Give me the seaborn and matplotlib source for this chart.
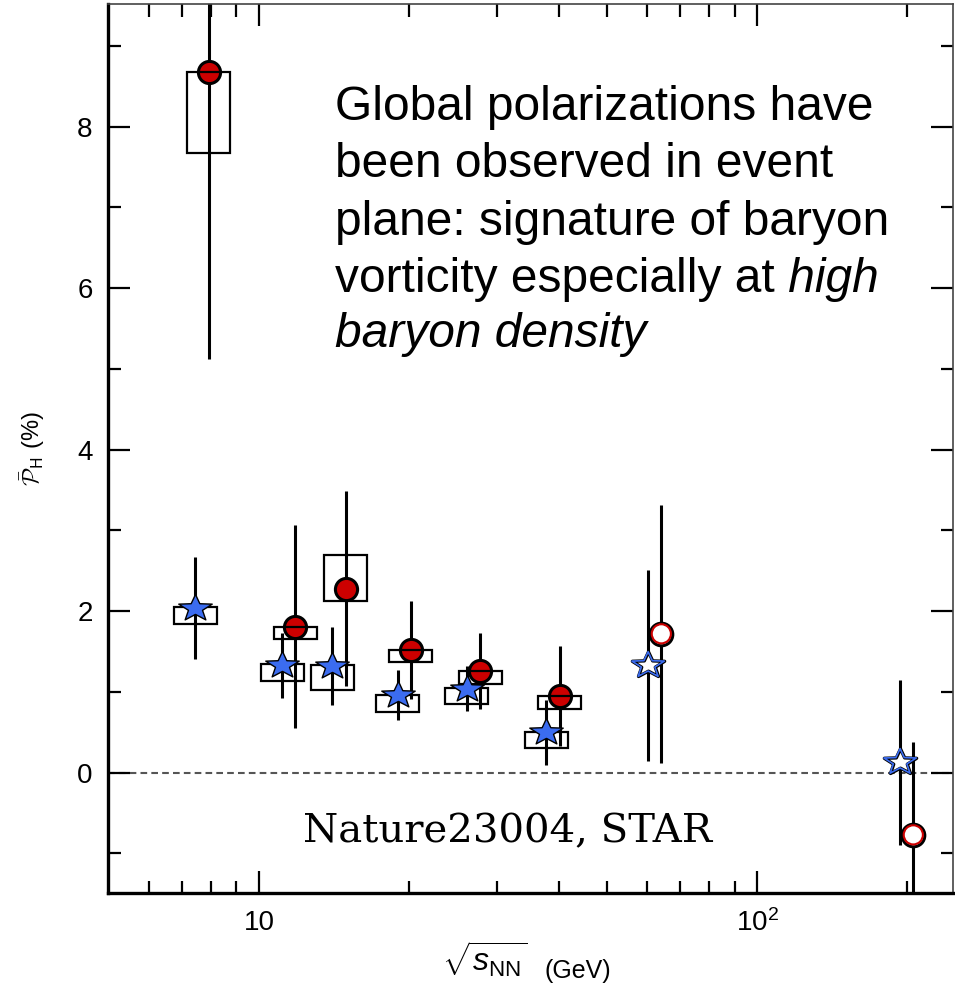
import numpy as np
import matplotlib
matplotlib.use("Agg")
import matplotlib.pyplot as plt
import seaborn as sns
import pandas as pd
from matplotlib.patches import Rectangle
from matplotlib.path import Path
from matplotlib.markers import MarkerStyle
from matplotlib.ticker import FixedLocator, FixedFormatter, NullFormatter

# ---------------- data ----------------
energies = [7.7, 11.5, 14.5, 19.6, 27.0, 39.0, 62.4, 200.0]

# Lambda (stars)
lam_P = [2.04, 1.33, 1.32, 0.96, 1.04, 0.50, 1.33, 0.13]
lam_stat = [0.63, 0.40, 0.48, 0.31, 0.28, 0.40, 1.18, 1.02]
lam_sys_lo = [0.20, 0.19, 0.30, 0.21, 0.19, 0.19, np.nan, np.nan]
lam_sys_hi = [0.01, 0.02, 0.01, 0.00, 0.01, 0.01, np.nan, np.nan]
lam_open = [False, False, False, False, False, False, True, True]

# anti-Lambda (circles)
alam_P = [8.68, 1.81, 2.28, 1.52, 1.26, 0.95, 1.72, -0.77]
alam_stat = [3.56, 1.26, 1.21, 0.61, 0.47, 0.62, 1.60, 1.15]
alam_sys_lo = [1.00, 0.15, 0.15, 0.15, 0.16, 0.16, np.nan, np.nan]
alam_sys_hi = [0.00, 0.00, 0.41, 0.00, 0.00, 0.00, np.nan, np.nan]
alam_open = [False, False, False, False, False, False, True, True]

x_major = [10, 100]
x_major_labels = ["10", r"$\mathdefault{10^{2}}$"]
x_minor = [6, 7, 8, 9, 20, 30, 40, 50, 60, 70, 80, 90, 200]
y_major = [0, 2, 4, 6, 8]
y_minor = [-1, 1, 3, 5, 7, 9]

text_lines = ["Global polarizations have",
              "been observed in event",
              "plane: signature of baryon",
              "vorticity especially at"]
text_italic_tail = " high"
text_italic_line = "baryon density"
ref_label = "Nature23004, STAR"
xlabel_math = r"$\sqrt{s_{\mathrm{NN}}}$"
xlabel_unit = "(GeV)"
ylabel = r"$\bar{\mathcal{P}}_{\mathsf{H}}$ (%)"

# ---------------- style ----------------
sns.set_theme(style="ticks")
plt.rcParams["font.family"] = ["Liberation Sans", "DejaVu Sans"]
plt.rcParams["mathtext.fontset"] = "custom"
plt.rcParams["mathtext.rm"] = "Liberation Sans"
plt.rcParams["mathtext.it"] = "Liberation Sans:italic"
plt.rcParams["mathtext.bf"] = "Liberation Sans:bold"

STAR_SHIFT = 0.967
CIRC_SHIFT = 1.028
BOX_F = 1.105
BLUE = "#3b6cf0"
RED = "#cc0000"

fig = plt.figure(figsize=(9.55, 10), dpi=100)
ax = fig.add_axes([108 / 955, 1 - 893 / 1000, 845 / 955, 889 / 1000])
ax.set_xscale("log")

lam = pd.DataFrame({"x": np.array(energies) * STAR_SHIFT, "P": lam_P,
                    "stat": lam_stat, "lo": lam_sys_lo, "hi": lam_sys_hi,
                    "open": lam_open})
alam = pd.DataFrame({"x": np.array(energies) * CIRC_SHIFT, "P": alam_P,
                     "stat": alam_stat, "lo": alam_sys_lo, "hi": alam_sys_hi,
                     "open": alam_open})

# zero line
ax.axhline(0, color="#555555", lw=1.5, ls=(0, (3.2, 2)), zorder=0.5)

# statistical error bars
for df in (lam, alam):
    ax.errorbar(df["x"], df["P"], yerr=df["stat"], fmt="none", ecolor="black",
                elinewidth=2.2, capsize=0, zorder=1)

# systematic boxes
for df in (lam, alam):
    for _, r in df.dropna().iterrows():
        ax.add_patch(Rectangle((r["x"] / BOX_F, r["P"] - r["lo"]),
                               r["x"] * BOX_F - r["x"] / BOX_F, r["lo"] + r["hi"],
                               fill=False, edgecolor="black", lw=1.6, zorder=3))

# circles
fc = alam[~alam["open"]]
oc = alam[alam["open"]]
sns.scatterplot(data=fc, x="x", y="P", ax=ax, marker="o", s=255, color=RED,
                edgecolor="black", linewidth=2.2, zorder=2, legend=False)
sns.scatterplot(data=oc, x="x", y="P", ax=ax, marker="o", s=265, color="white",
                edgecolor="black", linewidth=2.2, zorder=2, legend=False)
sns.scatterplot(data=oc, x="x", y="P", ax=ax, marker="o", s=190, color="none",
                edgecolor=RED, linewidth=1.5, zorder=2.1, legend=False)

# stars (slightly squat star shape)
sp = Path.unit_regular_star(5, 0.42)
sv = sp.vertices.copy()
sv[:, 0] *= 1.25
star = MarkerStyle(Path(sv, sp.codes))

fs = lam[~lam["open"]]
os_ = lam[lam["open"]]
sns.scatterplot(data=fs, x="x", y="P", ax=ax, marker=star, s=580, color=BLUE,
                edgecolor="black", linewidth=1.0, zorder=4, legend=False)
sns.scatterplot(data=os_, x="x", y="P", ax=ax, marker=star, s=540, color="white",
                edgecolor="black", linewidth=2.4, zorder=4, legend=False)
sns.scatterplot(data=os_, x="x", y="P", ax=ax, marker=star, s=540, color="none",
                edgecolor=BLUE, linewidth=1.2, zorder=4.1, legend=False)

# axes
ax.set_xlim(4.97, 247)
ax.set_ylim(-1.49, 9.52)
ax.xaxis.set_major_locator(FixedLocator(x_major))
ax.xaxis.set_major_formatter(FixedFormatter(x_major_labels))
ax.xaxis.set_minor_locator(FixedLocator(x_minor))
ax.xaxis.set_minor_formatter(NullFormatter())
ax.yaxis.set_major_locator(FixedLocator(y_major))
ax.yaxis.set_minor_locator(FixedLocator(y_minor))
ax.yaxis.set_minor_formatter(NullFormatter())

ax.tick_params(which="both", direction="in", top=True, right=True,
               color="black", labelcolor="black", labelsize=20)
ax.tick_params(which="major", length=16, width=1.6)
ax.tick_params(which="minor", length=9, width=1.6)
ax.tick_params(axis="x", which="major", pad=12)
ax.tick_params(axis="y", which="major", pad=11)

for s in ("left", "bottom"):
    ax.spines[s].set_linewidth(2.4)
    ax.spines[s].set_color("black")
for s in ("top", "right"):
    ax.spines[s].set_linewidth(1.2)
    ax.spines[s].set_color("#444444")

ax.set_xlabel("")
fig.text(442 / 955, 1 - 940 / 1000, xlabel_math, fontsize=23, va="top", ha="left",
         color="black")
fig.text(544 / 955, 1 - 971 / 1000, xlabel_unit, fontsize=18, va="center", ha="left",
         color="black")

ax.set_ylabel(ylabel, fontsize=17, color="black", math_fontfamily="cm")
ax.yaxis.set_label_coords(-0.072, 0.5)

# annotation text
baselines = [120, 177, 235, 292, 347]
tx = 335 / 955
last = None
for line, yb in zip(text_lines, baselines[:4]):
    last = fig.text(tx, 1 - yb / 1000, line, fontsize=34.5, va="baseline", ha="left",
                    color="black")
ax.annotate(text_italic_tail, xy=(1, 1 - baselines[3] / 1000),
            xycoords=(last, "figure fraction"), fontsize=34.5, style="italic",
            va="baseline", ha="left", color="black")
fig.text(tx, 1 - baselines[4] / 1000, text_italic_line, fontsize=34.5, style="italic",
         va="baseline", ha="left", color="black")

fig.text(303 / 955, 1 - 842 / 1000, ref_label, fontsize=29, family="DejaVu Serif",
         va="baseline", ha="left", color="black")

fig.savefig("out.png", dpi=100)
